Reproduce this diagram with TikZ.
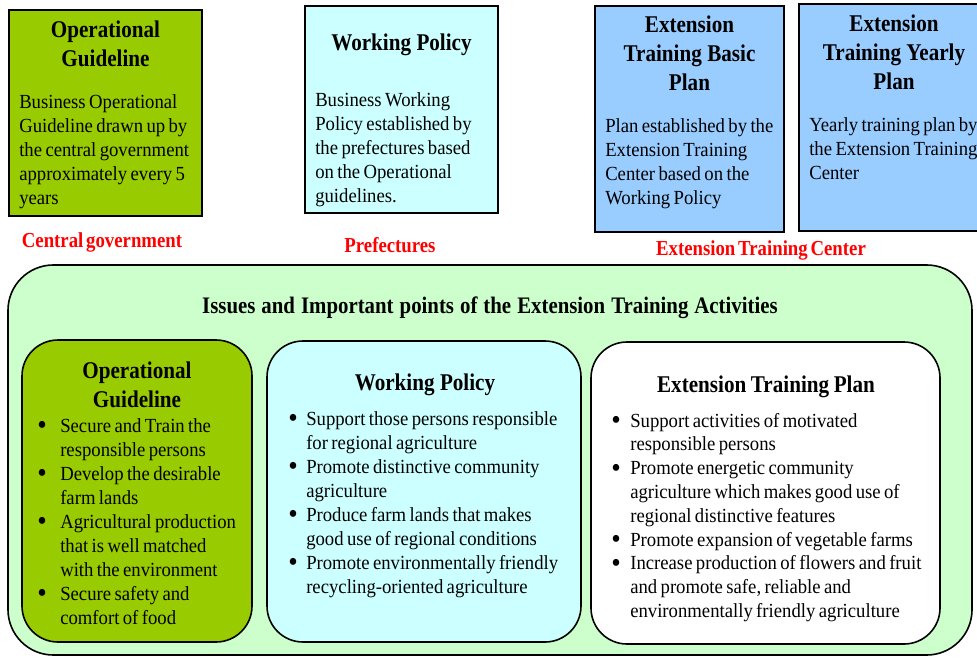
\documentclass[tikz,border=0pt]{standalone}
\usepackage{fontspec}
\setmainfont{Liberation Serif}
\newfontfamily\bodyf{Liberation Serif}[FakeStretch=0.935]
\newfontfamily\headf{Liberation Serif}[FakeStretch=0.88,WordSpace=0.6]

\definecolor{leafgreen}{HTML}{99CC00}
\definecolor{palecyan}{HTML}{CCFFFF}
\definecolor{skyblue}{HTML}{99CCFF}
\definecolor{mint}{HTML}{CCFFCC}

% tight interword spaces
\newcommand{\tightspace}{\spaceskip=0.17em plus 0.04em minus 0.02em\relax}
\newcommand{\headspace}{\spaceskip=0.16em plus 0.04em minus 0.02em\relax}

% list helpers: \bl opens a bulleted line, \ind indents a continuation line
\newlength\bulind
\newcommand{\bl}{\makebox[\bulind][l]{\raisebox{-0.12em}{\scalebox{1.45}{\textbullet}}}}
\newcommand{\ind}{\hspace*{\bulind}}

\begin{document}
\begin{tikzpicture}[x=0.75pt,y=-0.75pt,
  sqbox/.style={draw=black,line width=1.3pt},
  rbox/.style={draw=black,line width=1.2pt,rounded corners=27pt},
  ttl/.style={anchor=base,inner sep=0pt,align=center,text width=220pt,
    font=\headf\bfseries\fontsize{18}{21.75}\selectfont,
    execute at begin node=\headspace},
  txt/.style={anchor=base west,inner sep=0pt,align=left,text width=240pt,
    font=\bodyf\fontsize{15}{18}\selectfont,
    execute at begin node=\tightspace},
  org/.style={anchor=base,inner sep=0pt,text=red,
    font=\headf\bfseries\fontsize{16}{18}\selectfont},
]
\useasboundingbox (0,0) rectangle (977,657);
\clip (0,0) rectangle (977,657);

% ---- planning documents (top row) ----
\draw[sqbox,fill=leafgreen] (9,10) rectangle (202,216);
\node[ttl] (og) at (105.5,37) {Operational\\Guideline};
\node[txt] (ogtxt) at (19,108) {Business Operational\\Guideline drawn up by\\the central government\\approximately every 5\\years};

\draw[sqbox,fill=palecyan] (305,6) rectangle (498,213);
\node[ttl] (wp) at (401.5,50) {Working Policy};
\node[txt] (wptxt) at (315,106) {Business Working\\Policy established by\\the prefectures based\\on the Operational\\guidelines.};

\draw[sqbox,fill=skyblue] (595,6) rectangle (784,232);
\node[ttl] (bp) at (689.5,32) {Extension\\Training Basic\\Plan};
\node[txt] (bptxt) at (605,132) {Plan established by the\\Extension Training\\Center based on the\\Working Policy};

\draw[sqbox,fill=skyblue] (799,4) rectangle (990,231);
\node[ttl] (yp) at (894,31) {Extension\\Training Yearly\\Plan};
\node[txt] (yptxt) at (809,131) {Yearly training plan by\\the Extension Training\\Center};

% ---- responsible bodies ----
\node[org] (cg) at (102,247) {Central government};
\node[org] (pf) at (390,252) {Prefectures};
\node[org] (etc) at (761,255) {Extension Training Center};

% ---- issues panel ----
\draw[line width=1.2pt,draw=black,fill=mint,rounded corners=34pt] (8,265) rectangle (972,655);
\node[ttl,text width=600pt,font=\headf\bfseries\fontsize{17.75}{21}\selectfont] (issues) at (490,313) {Issues and Important points of the Extension Training Activities};

\draw[rbox,fill=leafgreen] (22,340) rectangle (252,642);
\node[ttl] (og2) at (137,378) {Operational\\Guideline};
\node[txt] (oglist) at (37,432) {\setlength\bulind{17.25pt}%
\bl Secure and Train the\\\ind responsible persons\\
\bl Develop the desirable\\\ind farm lands\\
\bl Agricultural production\\\ind that is well matched\\\ind with the environment\\
\bl Secure safety and\\\ind comfort of food};

\draw[rbox,fill=palecyan] (267,341) rectangle (581,642);
\node[ttl] (wp2) at (425,390) {Working Policy};
\node[txt] (wplist) at (288,425) {\setlength\bulind{13.5pt}%
\bl Support those persons responsible\\\ind for regional agriculture\\
\bl Promote distinctive community\\\ind agriculture\\
\bl Produce farm lands that makes\\\ind good use of regional conditions\\
\bl Promote environmentally friendly\\\ind recycling-oriented agriculture};

\draw[rbox,fill=white] (591,342) rectangle (940,644);
\node[ttl] (tp) at (766,392) {Extension Training Plan};
\node[txt,font=\bodyf\fontsize{15}{17.85}\selectfont] (tplist) at (611,427) {\setlength\bulind{14.25pt}%
\bl Support activities of motivated\\\ind responsible persons\\
\bl Promote energetic community\\\ind agriculture which makes good use of\\\ind regional distinctive features\\
\bl Promote expansion of vegetable farms\\
\bl Increase production of flowers and fruit\\\ind and promote safe, reliable and\\\ind environmentally friendly agriculture};
\end{tikzpicture}
\end{document}
